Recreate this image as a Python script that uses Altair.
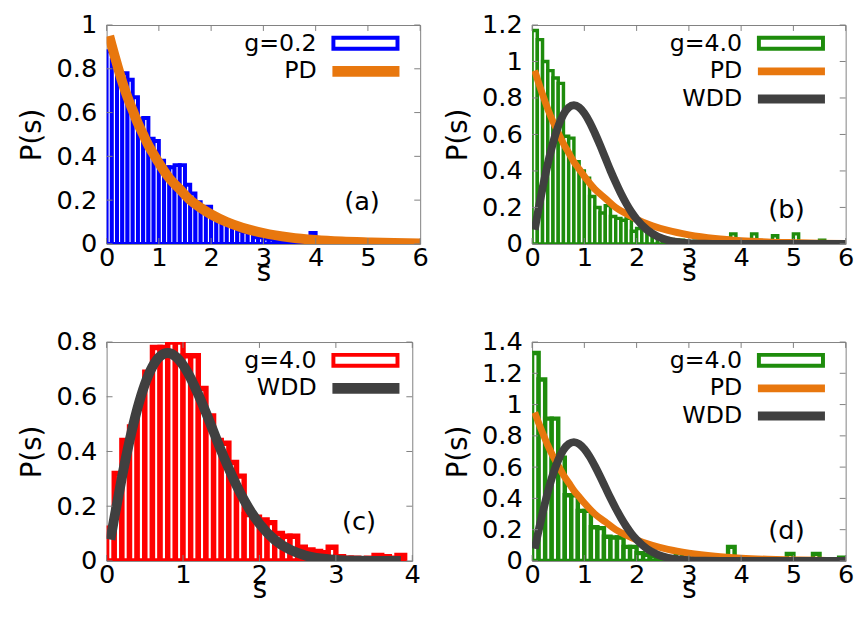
import altair as alt
import pandas as pd

FONT = "DejaVu Sans"
BLUE = "#0000ff"
GREEN = "#1e8c0c"
RED = "#ff0000"
ORANGE = "#e8770e"
DARK = "#404040"
FRAME = "#808080"

W = 318
WC = 310
H = 222

# ---------------- data ----------------
XT6 = [0, 1, 2, 3, 4, 5, 6]
XT4 = [0, 1, 2, 3, 4]
YT_A = [0, 0.2, 0.4, 0.6, 0.8, 1]
YT_B = [0, 0.2, 0.4, 0.6, 0.8, 1, 1.2]
YT_C = [0, 0.2, 0.4, 0.6, 0.8]
YT_D = [0, 0.2, 0.4, 0.6, 0.8, 1, 1.2, 1.4]

# histogram (a): g=0.2, bins of 0.1 from 0
A_BIN = 0.1
A_P = [0.88, 0.84, 0.78, 0.78, 0.75, 0.67, 0.57, 0.575, 0.48, 0.47,
       0.38, 0.35, 0.35, 0.36, 0.36, 0.27, 0.23, 0.19, 0.155, 0.17,
       0.125, 0.12, 0.095, 0.09, 0.085, 0.06, 0.055, 0.05, 0.03, 0.03,
       0.025, 0.02, 0.015, 0.015, 0.01, 0.01, 0.01, 0.005, 0.005, 0.05]

# histogram (b): g=4.0, bins of 0.1
B_BIN = 0.1
B_P = [1.17, 1.12, 1.00, 0.95, 0.91, 0.88, 0.59, 0.58, 0.45, 0.40,
       0.36, 0.26, 0.20, 0.17, 0.21, 0.15, 0.14, 0.13, 0.14, 0.07,
       0.085, 0.08, 0.06, 0.04, 0.035, 0.03, 0.025, 0.02, 0.02, 0.015,
       0.01, 0.015, 0.01, 0.01, 0.005, 0.01, 0.01, 0.03, 0.055, 0.0,
       0.01, 0.0, 0.055, 0.0, 0.01, 0.0, 0.045, 0.0, 0.01, 0.0,
       0.055, 0.0, 0.0, 0.01, 0.0, 0.02, 0.0, 0.0, 0.0, 0.0]

# histogram (c): g=4.0, bins of 0.1
C_BIN = 0.1
C_P = [0.12, 0.32, 0.44, 0.49, 0.57, 0.69, 0.78, 0.78, 0.80, 0.80,
       0.75, 0.75, 0.63, 0.53, 0.44, 0.43, 0.36, 0.31, 0.17, 0.16,
       0.15, 0.14, 0.10, 0.09, 0.09, 0.05, 0.04, 0.035, 0.03, 0.05,
       0.015, 0.01, 0.01, 0.005, 0.01, 0.02, 0.015, 0.01, 0.02]

# histogram (d): g=4.0, bins of 0.125
D_BIN = 0.125
D_P = [1.33, 1.16, 0.91, 0.91, 0.66, 0.42, 0.42, 0.32, 0.32, 0.215,
       0.21, 0.155, 0.15, 0.15, 0.09, 0.09, 0.05, 0.04, 0.03, 0.03,
       0.02, 0.02, 0.05, 0.015, 0.01, 0.01, 0.01, 0.005, 0.005, 0.01,
       0.09, 0.005, 0.005, 0.0, 0.01, 0.0, 0.005, 0.0, 0.005, 0.045,
       0.0, 0.005, 0.0, 0.045, 0.0, 0.005, 0.0, 0.02]

# PD curve
PD_S = [0.05, 0.1, 0.2, 0.3, 0.4, 0.5, 0.6, 0.7, 0.8, 0.9, 1.0, 1.2, 1.4,
        1.6, 1.8, 2.0, 2.3, 2.6, 3.0, 3.5, 4.0, 4.5, 5.0, 5.5, 6.0]
PD_P = [0.95, 0.905, 0.82, 0.74, 0.67, 0.61, 0.55, 0.50, 0.45, 0.41, 0.37,
        0.30, 0.25, 0.20, 0.165, 0.135, 0.10, 0.074, 0.05, 0.03, 0.018,
        0.011, 0.007, 0.004, 0.0025]

# WDD curve
WDD_S = [0.05, 0.1, 0.2, 0.3, 0.4, 0.5, 0.6, 0.7, 0.8, 0.9, 1.0, 1.1, 1.2,
         1.3, 1.4, 1.5, 1.6, 1.7, 1.8, 1.9, 2.0, 2.2, 2.4, 2.6, 2.8, 3.0,
         3.3, 3.6, 3.85, 4.5, 5.0, 5.5, 6.0]
WDD_P = [0.078, 0.156, 0.305, 0.439, 0.554, 0.645, 0.710, 0.748, 0.760,
         0.748, 0.716, 0.668, 0.608, 0.542, 0.472, 0.402, 0.337, 0.276,
         0.222, 0.175, 0.136, 0.077, 0.041, 0.020, 0.009, 0.004, 0.001,
         0.0, 0.0, 0.0, 0.0, 0.0, 0.0]


def hist_frame(vals, w):
    return pd.DataFrame({
        "s": [i * w for i in range(len(vals))],
        "s2": [(i + 1) * w for i in range(len(vals))],
        "p": vals,
    })


def panel(vals, bin_w, color, bar_sw, xmax, ymax, xticks, yticks, width,
          curves, hist_label, tag, tag_xy):
    xs = alt.Scale(domain=[0, xmax], nice=False, zero=False)
    ys = alt.Scale(domain=[0, ymax], nice=False, zero=False)
    xa = alt.Axis(values=xticks, format="~g", title="s", labelFontSize=26,
                  titleFontSize=28, labelPadding=1, labelFlush=False,
                  titleX=width / 2, titleY=29, titleAlign="center",
                  titleBaseline="middle", ticks=False, domain=False, grid=False)
    ya = alt.Axis(values=yticks, format="~g", title="P(s)", labelFontSize=26,
                  titleFontSize=28, labelPadding=10, labelFlush=False,
                  titleX=-75, titleY=H / 2, titleAngle=270, titleAlign="center",
                  titleBaseline="middle", ticks=False, domain=False, grid=False)

    X = lambda: alt.X("s:Q", scale=xs, axis=xa)
    Y = lambda: alt.Y("p:Q", scale=ys, axis=ya)

    layers = []
    layers.append(
        alt.Chart(hist_frame(vals, bin_w)).mark_bar(
            fill="white", stroke=color, strokeWidth=bar_sw, clip=True
        ).encode(x=X(), x2="s2:Q", y=Y(), y2=alt.datum(0))
    )
    for (cs, cp, ccol, cw, _lab) in curves:
        layers.append(
            alt.Chart(pd.DataFrame({"s": cs, "p": cp})).mark_line(
                color=ccol, strokeWidth=cw, interpolate="monotone", clip=True,
                strokeCap="butt"
            ).encode(x=X(), y=Y())
        )
    xt = pd.DataFrame({"s": xticks})
    yt = pd.DataFrame({"p": yticks})
    layers.append(alt.Chart(xt).mark_rule(color=FRAME, strokeWidth=1).encode(
        x=X(), y=alt.value(H - 6), y2=alt.value(H)))
    layers.append(alt.Chart(xt).mark_rule(color=FRAME, strokeWidth=1).encode(
        x=X(), y=alt.value(0), y2=alt.value(6)))
    layers.append(alt.Chart(yt).mark_rule(color=FRAME, strokeWidth=1).encode(
        y=Y(), x=alt.value(0), x2=alt.value(6)))
    layers.append(alt.Chart(yt).mark_rule(color=FRAME, strokeWidth=1).encode(
        y=Y(), x=alt.value(width - 6), x2=alt.value(width)))

    # key
    dummy = pd.DataFrame({"k": [0]})
    rows = [19, 47, 75]
    layers.append(alt.Chart(dummy).mark_text(
        text=hist_label, align="right", baseline="middle", fontSize=24,
        font=FONT, color="black").encode(x=alt.value(213), y=alt.value(rows[0])))
    layers.append(alt.Chart(dummy).mark_rect(
        fill="white", stroke=color, strokeWidth=4).encode(
        x=alt.value(230), x2=alt.value(295), y=alt.value(rows[0] - 6),
        y2=alt.value(rows[0] + 5)))
    for k, (_cs, _cp, ccol, cw, lab) in enumerate(curves):
        yk = rows[k + 1]
        layers.append(alt.Chart(dummy).mark_text(
            text=lab, align="right", baseline="middle", fontSize=24,
            font=FONT, color="black").encode(x=alt.value(213), y=alt.value(yk)))
        layers.append(alt.Chart(dummy).mark_rule(
            color=ccol, strokeWidth=cw + 1).encode(
            x=alt.value(229), x2=alt.value(297), y=alt.value(yk)))
    layers.append(alt.Chart(dummy).mark_text(
        text=tag, align="center", baseline="middle", fontSize=26, font=FONT,
        color="black").encode(x=alt.value(tag_xy[0]), y=alt.value(tag_xy[1])))

    return alt.layer(*layers).properties(width=width, height=H)


PD = (PD_S, PD_P, ORANGE, 7, "PD")
WDD = (WDD_S, WDD_P, DARK, 8, "WDD")
PD_A = (PD_S, PD_P, ORANGE, 10, "PD")
WDD_C = (WDD_S[:29], WDD_P[:29], DARK, 10, "WDD")

pa = panel(A_P, A_BIN, BLUE, 4, 6, 1.0, XT6, YT_A, W, [PD_A], "g=0.2", "(a)", (259, 180))
pb = panel(B_P, B_BIN, GREEN, 3.5, 6, 1.2, XT6, YT_B, W, [PD, WDD], "g=4.0", "(b)", (258, 188))
pc = panel(C_P, C_BIN, RED, 5.5, 4, 0.8, XT4, YT_C, WC, [WDD_C], "g=4.0", "(c)", (256, 183))
pd_ = panel(D_P, D_BIN, GREEN, 4.5, 6, 1.4, XT6, YT_D, W, [PD, WDD], "g=4.0", "(d)", (258, 192))

chart = alt.concat(
    pa, pb, pc, pd_, columns=2, spacing={"row": 99.5, "column": 113.5},
    bounds="flush"
).properties(
    padding={"left": 10, "top": -1, "right": 2, "bottom": 2}
).configure_view(
    stroke=FRAME, strokeWidth=1
).configure_axis(
    labelFont=FONT, titleFont=FONT, labelColor="black", titleColor="black",
    titleFontWeight="normal"
)

chart.save("out.html", embed_options={"renderer": "svg", "actions": False})
